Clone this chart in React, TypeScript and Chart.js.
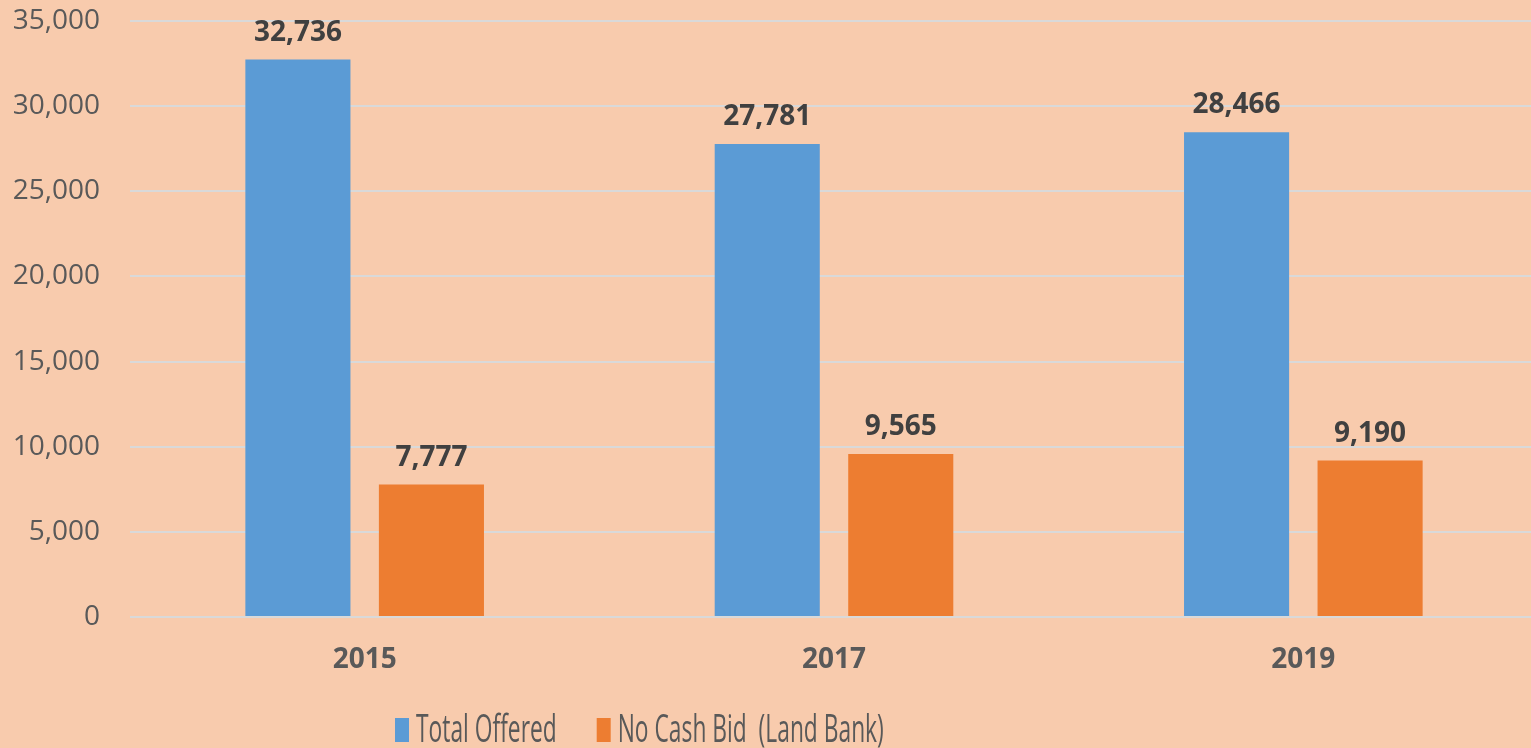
import React, { useEffect, useRef } from "react";
import { Chart, registerables } from "chart.js";

Chart.register(...registerables);

const categories = ["2015", "2017", "2019"];
const seriesNames = ["Total Offered", "No Cash Bid  (Land Bank)"];
const totalOffered = [32736, 27781, 28466];
const noCashBid = [7777, 9565, 9190];
const seriesColors = ["#5B9BD5", "#ED7D31"];
const yMin = 0;
const yMax = 35000;
const yStep = 5000;

const FONT = "'Open Sans', 'Noto Sans', sans-serif";
const fmt = (v: number) => v.toLocaleString("en-US");

const valueLabels = {
  id: "valueLabels",
  afterDatasetsDraw(chart: any) {
    const ctx = chart.ctx;
    ctx.save();
    ctx.font = `bold 28px ${FONT}`;
    ctx.fillStyle = "#404040";
    ctx.textAlign = "center";
    ctx.textBaseline = "alphabetic";
    chart.data.datasets.forEach((ds: any, di: number) => {
      const meta = chart.getDatasetMeta(di);
      meta.data.forEach((bar: any, i: number) => {
        ctx.fillText(fmt(ds.data[i]), bar.x, bar.y - 19);
      });
    });
    ctx.restore();
  },
};

const squeezedLegend = {
  id: "squeezedLegend",
  afterDraw(chart: any) {
    const ctx = chart.ctx;
    const squeeze = 0.6;
    const boxW = 14;
    const boxH = 24;
    const baseline = chart.height - 6;
    let x = 395;
    ctx.save();
    ctx.font = `38px ${FONT}`;
    ctx.textBaseline = "alphabetic";
    ctx.textAlign = "left";
    chart.data.datasets.forEach((ds: any) => {
      ctx.fillStyle = ds.backgroundColor;
      ctx.fillRect(x, baseline - boxH, boxW, boxH);
      x += boxW + 7;
      const w = ctx.measureText(ds.label).width * squeeze;
      ctx.save();
      ctx.translate(x, baseline);
      ctx.scale(squeeze, 1);
      ctx.fillStyle = "#595959";
      ctx.fillText(ds.label, 0, 0);
      ctx.restore();
      x += w + 40;
    });
    ctx.restore();
  },
};

export default function App() {
  const canvasRef = useRef<HTMLCanvasElement | null>(null);

  useEffect(() => {
    if (!canvasRef.current) return;
    const chart = new Chart(canvasRef.current, {
      type: "bar",
      data: {
        labels: categories,
        datasets: [
          {
            label: seriesNames[0],
            data: totalOffered,
            backgroundColor: seriesColors[0],
            categoryPercentage: 0.569,
            barPercentage: 0.787,
          },
          {
            label: seriesNames[1],
            data: noCashBid,
            backgroundColor: seriesColors[1],
            categoryPercentage: 0.569,
            barPercentage: 0.787,
          },
        ],
      },
      options: {
        animation: false,
        responsive: true,
        maintainAspectRatio: false,
        layout: { padding: { top: 21, bottom: 0, left: 0, right: 0 } },
        plugins: {
          legend: { display: false },
          tooltip: { enabled: false },
        },
        scales: {
          x: {
            afterFit: (scale: any) => {
              scale.height = 131;
              scale.paddingLeft = 0;
              scale.paddingRight = 0;
            },
            grid: { display: false, drawTicks: false },
            border: { display: false },
            ticks: {
              padding: 26,
              color: "#595959",
              font: { family: FONT, size: 28, weight: "bold" },
            },
          },
          y: {
            min: yMin,
            max: yMax,
            afterFit: (scale: any) => {
              scale.width = 130;
              scale.paddingTop = 0;
              scale.paddingBottom = 0;
            },
            grid: { color: "#D9D9D9", lineWidth: 2, drawTicks: false },
            border: { display: false },
            ticks: {
              stepSize: yStep,
              padding: 30,
              color: "#595959",
              font: { family: FONT, size: 28 },
              callback: (v: any) => fmt(Number(v)),
            },
          },
        },
      },
      plugins: [valueLabels, squeezedLegend],
    });
    return () => chart.destroy();
  }, []);

  return (
    <div
      style={{
        position: "fixed",
        left: 0,
        top: 0,
        width: "100vw",
        height: "100vh",
        overflow: "hidden",
        background: "#F8CBAD",
      }}
    >
      <div style={{ position: "relative", width: "calc(100vw + 7px)", height: "100vh" }}>
        <canvas ref={canvasRef} />
      </div>
    </div>
  );
}
